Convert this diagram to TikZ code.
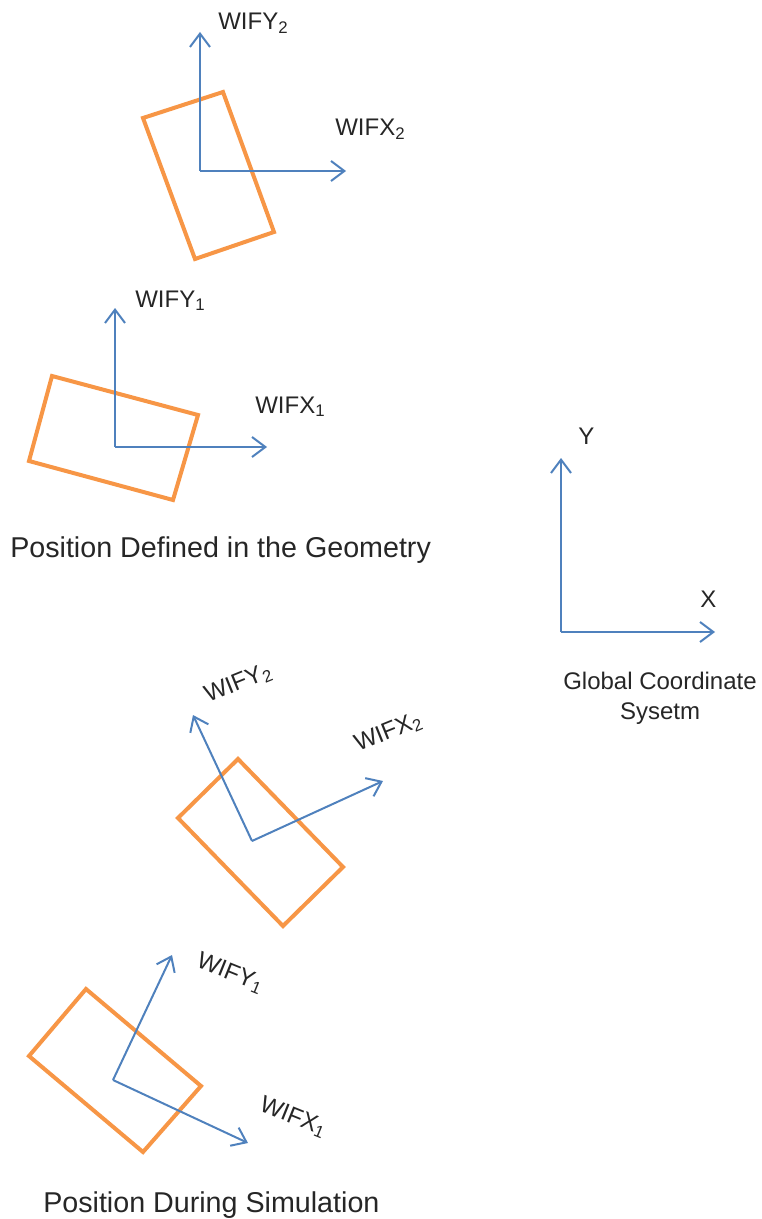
\documentclass[tikz,border=0pt]{standalone}
\usepackage{fontspec}
\setmainfont{Liberation Sans}
\usepackage{xcolor}
\usetikzlibrary{arrows.meta}
\definecolor{frameorange}{HTML}{F79646}
\definecolor{axisblue}{HTML}{4F81BD}
\tikzset{
  frame/.style={draw=frameorange, line width=3pt, line join=miter},
  axis/.style={-{Straight Barb[length=10pt, width=15pt]}, draw=axisblue,
               line width=1.5pt},
  wiflabel/.style={inner sep=0pt, anchor=base west, text=black!85,
                   font=\fontsize{18}{20}\selectfont},
  caption/.style={inner sep=0pt, anchor=base west, text=black!85,
                  font=\fontsize{21.5}{24}\selectfont},
}

\begin{document}
\begin{tikzpicture}[x=0.75pt, y=-0.75pt]
  \useasboundingbox (0,0) rectangle (761,1219);

  % position defined in the geometry
  \draw[frame] (143,118) -- (223,92) -- (274,232) -- (195,259) -- cycle;
  \coordinate (defO2) at (200,171);
  \coordinate (defY2) at (200,32);
  \coordinate (defX2) at (346,171);
  \draw[axis] (defO2) -- (defY2);
  \draw[axis] (defO2) -- (defX2);
  \node[wiflabel] (defY2lab) at (218,30) {WIFY\textsubscript{2}};
  \node[wiflabel] (defX2lab) at (335,136) {WIFX\textsubscript{2}};

  \draw[frame] (52,376) -- (198,415) -- (173,500) -- (29,461) -- cycle;
  \coordinate (defO1) at (115,447);
  \coordinate (defY1) at (115,308);
  \coordinate (defX1) at (267,447);
  \draw[axis] (defO1) -- (defY1);
  \draw[axis] (defO1) -- (defX1);
  \node[wiflabel] (defY1lab) at (135,307) {WIFY\textsubscript{1}};
  \node[wiflabel] (defX1lab) at (255,413) {WIFX\textsubscript{1}};

  \node[caption] (defcap) at (10,557) {Position Defined in the Geometry};

  % global system
  \coordinate (glbO) at (561,632);
  \coordinate (glbY) at (561,458);
  \coordinate (glbX) at (715,632);
  \draw[axis] (glbO) -- (glbY);
  \draw[axis] (glbO) -- (glbX);
  \node[wiflabel] (glbYlab) at (578,444) {Y};
  \node[wiflabel] (glbXlab) at (700,607) {X};
  \node[align=center, text=black!85, font=\fontsize{18}{22.5}\selectfont]
    (glbcap) at (660,698) {Global Coordinate\\Sysetm};

  % position during simulation
  \draw[frame] (238,759) -- (343,867) -- (283,926) -- (178,818) -- cycle;
  \coordinate (simO2) at (252,841);
  \coordinate (simY2) at (193,715);
  \coordinate (simX2) at (383,781);
  \draw[axis] (simO2) -- (simY2);
  \draw[axis] (simO2) -- (simX2);
  \node[wiflabel, rotate=22] (simY2lab) at (208,703) {WIFY\textsubscript{2}};
  \node[wiflabel, rotate=22] (simX2lab) at (358,752) {WIFX\textsubscript{2}};

  \draw[frame] (86,989) -- (201,1086) -- (143,1152) -- (29,1056) -- cycle;
  \coordinate (simO1) at (113,1080);
  \coordinate (simY1) at (172,955);
  \coordinate (simX1) at (248,1143);
  \draw[axis] (simO1) -- (simY1);
  \draw[axis] (simO1) -- (simX1);
  \node[wiflabel, rotate=-22] (simY1lab) at (195,966) {WIFY\textsubscript{1}};
  \node[wiflabel, rotate=-22] (simX1lab) at (258,1110) {WIFX\textsubscript{1}};

  \node[caption] (simcap) at (43,1212) {Position During Simulation};
\end{tikzpicture}
\end{document}
